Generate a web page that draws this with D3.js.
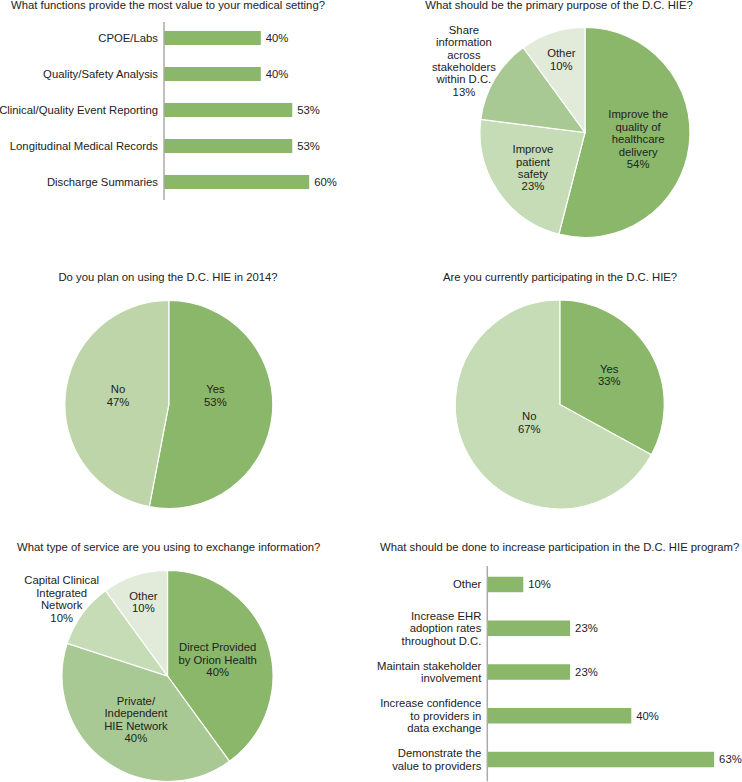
<!DOCTYPE html>
<html>
<head>
<meta charset="utf-8">
<script src="https://cdn.jsdelivr.net/npm/d3@7"></script>
<style>
  html, body { margin: 0; padding: 0; background: #fff; }
  svg text { font-family: "Liberation Sans", Arial, Helvetica, sans-serif; font-size: 11.3px; fill: #222; }
</style>
</head>
<body>
<svg id="chart" width="742" height="782"></svg>
<script>
// ---------- DATA ----------
const titles = [
  "What functions provide the most value to your medical setting?",
  "What should be the primary purpose of the D.C. HIE?",
  "Do you plan on using the D.C. HIE in 2014?",
  "Are you currently participating in the D.C. HIE?",
  "What type of service are you using to exchange information?",
  "What should be done to increase participation in the D.C. HIE program?"
];

const functionsCategories = ["CPOE/Labs", "Quality/Safety Analysis", "Clinical/Quality Event Reporting", "Longitudinal Medical Records", "Discharge Summaries"];
const functionsValues = [40, 40, 53, 53, 60];

const purposeCategories = ["Improve the\nquality of\nhealthcare\ndelivery", "Improve\npatient\nsafety", "Share\ninformation\nacross\nstakeholders\nwithin D.C.", "Other"];
const purposeValues = [54, 23, 13, 10];

const planCategories = ["Yes", "No"];
const planValues = [53, 47];

const participatingCategories = ["Yes", "No"];
const participatingValues = [33, 67];

const serviceCategories = ["Direct Provided\nby Orion Health", "Private/\nIndependent\nHIE Network", "Capital Clinical\nIntegrated\nNetwork", "Other"];
const serviceValues = [40, 40, 10, 10];

const increaseCategories = ["Other", "Increase EHR\nadoption rates\nthroughout D.C.", "Maintain stakeholder\ninvolvement", "Increase confidence\nto providers in\ndata exchange", "Demonstrate the\nvalue to providers"];
const increaseValues = [10, 23, 23, 40, 63];

// ---------- STYLE ----------
const C_DARK = "#8ab76a", C_MED = "#a9c994", C_LIGHT = "#c5dcb6", C_PALE = "#e2ebd9", C_NO = "#bed4a9";
const LINE_H = 12.4;
const svg = d3.select("#chart");

function multiline(sel, text, x, cy) {
  const lines = text.split("\n");
  const t = sel.append("text").attr("text-anchor", "middle");
  lines.forEach((l, i) => {
    t.append("tspan").attr("x", x)
      .attr("y", cy + (i - (lines.length - 1) / 2) * LINE_H)
      .attr("dy", "0.35em").text(l);
  });
  return t;
}

function title(text, x, y, anchor) {
  svg.append("text").attr("x", x).attr("y", y).attr("text-anchor", anchor || "start").text(text);
}

// ---------- BAR CHART ----------
function barChart(o) {
  const g = svg.append("g");
  const x = d3.scaleLinear().domain([0, 100]).range([o.x0, o.x0 + o.pxPerPct * 100]);
  const y = d3.scaleBand().domain(o.cats).range([o.y0, o.y1]).paddingInner(o.pad).paddingOuter(o.pad / 2);
  g.selectAll("rect").data(o.vals).join("rect")
    .attr("x", x(0)).attr("y", (d, i) => y(o.cats[i]))
    .attr("width", d => x(d) - x(0)).attr("height", y.bandwidth())
    .attr("fill", C_DARK);
  g.selectAll("text.val").data(o.vals).join("text").attr("class", "val")
    .attr("x", d => x(d) + 5).attr("y", (d, i) => y(o.cats[i]) + y.bandwidth() / 2)
    .attr("dy", "0.35em").text(d => d + "%");
  o.cats.forEach(c => {
    const lines = c.split("\n");
    const cy = y(c) + y.bandwidth() / 2;
    const t = g.append("text").attr("text-anchor", "end");
    lines.forEach((l, i) => t.append("tspan").attr("x", x(0) - 6)
      .attr("y", cy + (i - (lines.length - 1) / 2) * LINE_H).attr("dy", "0.35em").text(l));
  });
  g.append("line").attr("x1", x(0)).attr("x2", x(0)).attr("y1", o.axisTop).attr("y2", o.y1)
    .attr("stroke", "#aaa").attr("stroke-width", 1.5);
}

// ---------- PIE CHART ----------
function pieChart(o) {
  const g = svg.append("g").attr("transform", `translate(${o.cx},${o.cy})`);
  const pie = d3.pie().sort(null).value(d => d)(o.vals);
  const arc = d3.arc().innerRadius(0).outerRadius(o.r);
  g.selectAll("path").data(pie).join("path")
    .attr("d", arc).attr("fill", (d, i) => o.colors[i])
    .attr("stroke", "#fff").attr("stroke-width", 1.2);
  pie.forEach((d, i) => {
    const a = (d.startAngle + d.endAngle) / 2;
    const k = o.labelR[i] * o.r;
    const lx = Math.sin(a) * k, ly = -Math.cos(a) * k + (o.labelDy ? o.labelDy[i] : 0);
    multiline(g, o.cats[i] + "\n" + o.vals[i] + "%", lx, ly);
  });
}

// Chart 1
title(titles[0], 11, 9);
barChart({ cats: functionsCategories, vals: functionsValues, x0: 164, pxPerPct: 2.42, y0: 20, y1: 200, pad: 0.61, axisTop: 22 });

// Chart 2
title(titles[1], 559, 9, "middle");
pieChart({ cats: purposeCategories, vals: purposeValues, cx: 585, cy: 132.5, r: 105,
  colors: [C_DARK, C_LIGHT, C_MED, C_PALE], labelR: [0.51, 0.6, 1.34, 0.73] });

// Chart 3
title(titles[2], 168, 281, "middle");
pieChart({ cats: planCategories, vals: planValues, cx: 168.8, cy: 404.5, r: 104,
  colors: [C_DARK, C_NO], labelR: [0.45, 0.49], labelDy: [-13.4, -4.2] });

// Chart 4
title(titles[3], 560, 281, "middle");
pieChart({ cats: participatingCategories, vals: participatingValues, cx: 559.8, cy: 404.5, r: 104.5,
  colors: [C_DARK, C_LIGHT], labelR: [0.55, 0.34] });

// Chart 5
title(titles[4], 17, 551);
pieChart({ cats: serviceCategories, vals: serviceValues, cx: 167.5, cy: 676, r: 105.5,
  colors: [C_DARK, C_MED, C_LIGHT, C_PALE], labelR: [0.5, 0.51, 1.24, 0.74] });

// Chart 6
title(titles[5], 380, 551);
barChart({ cats: increaseCategories, vals: increaseValues, x0: 487.3, pxPerPct: 3.6, y0: 562.6, y1: 781.4, pad: 0.646, axisTop: 566 });
</script>
</body>
</html>
